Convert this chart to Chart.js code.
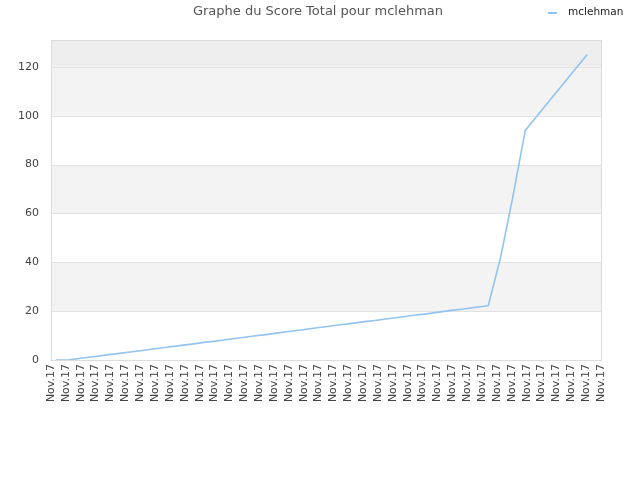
<!DOCTYPE html>
<html>
<head>
<meta charset="utf-8">
<script src="https://cdn.jsdelivr.net/npm/chart.js@4"></script>
<style>
  html, body { margin: 0; padding: 0; background: #fff; }
  #wrap { width: 640px; height: 480px; }
</style>
</head>
<body>
<div id="wrap"><canvas id="score-chart"></canvas></div>
<script>
// Score chart - total score for one player

const titleText = 'Graphe du Score Total pour mclehman';
const seriesName = 'mclehman';

// tick labels shown under the plot
const tickLabels = [
    'Nov.17', 'Nov.17', 'Nov.17', 'Nov.17', 'Nov.17', 'Nov.17', 'Nov.17', 'Nov.17',
    'Nov.17', 'Nov.17', 'Nov.17', 'Nov.17', 'Nov.17', 'Nov.17', 'Nov.17', 'Nov.17',
    'Nov.17', 'Nov.17', 'Nov.17', 'Nov.17', 'Nov.17', 'Nov.17', 'Nov.17', 'Nov.17',
    'Nov.17', 'Nov.17', 'Nov.17', 'Nov.17', 'Nov.17', 'Nov.17', 'Nov.17', 'Nov.17',
    'Nov.17', 'Nov.17', 'Nov.17', 'Nov.17', 'Nov.17', 'Nov.17'
];

// score values, one per sample
const scores = [
    0, 0, 0.7, 1.3, 2.0, 2.6, 3.3, 3.9, 4.6, 5.2,
    5.9, 6.5, 7.2, 7.8, 8.5, 9.1, 9.8, 10.4, 11.1, 11.8,
    12.4, 13.1, 13.7, 14.4, 15.0, 15.7, 16.3, 17.0, 17.6, 18.3,
    18.9, 19.6, 20.3, 20.9, 21.6, 22.2, 42, 67, 94, 100.2,
    106.4, 112.6, 118.8, 125
];

const yTicks = [0, 20, 40, 60, 80, 100, 120];

const lineColor = '#92c3f2';

// alternating bands behind the plot + border
const bandsPlugin = {
    id: 'bands',
    beforeDatasetsDraw(chart) {
        const { ctx, chartArea: a, scales: { y } } = chart;
        const stops = yTicks.concat([y.max]);
        ctx.save();
        for (let i = 0; i < stops.length - 1; i++) {
            const top = y.getPixelForValue(stops[i + 1]);
            const bottom = y.getPixelForValue(stops[i]);
            let color = i % 2 === 1 ? '#f3f3f3' : '#ffffff';
            if (i === stops.length - 2) color = '#eeeeee';
            ctx.fillStyle = color;
            ctx.fillRect(a.left, top, a.right - a.left, bottom - top);
        }
        // grid lines
        ctx.strokeStyle = '#e2e2e2';
        ctx.lineWidth = 1;
        yTicks.forEach(v => {
            const py = Math.round(y.getPixelForValue(v)) + 0.5;
            ctx.beginPath();
            ctx.moveTo(a.left, py);
            ctx.lineTo(a.right, py);
            ctx.stroke();
        });
        ctx.strokeStyle = '#dcdcdc';
        ctx.strokeRect(Math.round(a.left) + 0.5, Math.round(a.top) + 0.5,
            Math.round(a.right - a.left), Math.round(a.bottom - a.top));
        ctx.restore();
    },
    afterDraw(chart) {
        const { ctx } = chart;
        ctx.save();
        ctx.fillStyle = '#555555';
        ctx.font = '13px "DejaVu Sans"';
        ctx.textAlign = 'center';
        ctx.textBaseline = 'middle';
        ctx.fillText(titleText, 318, 12);

        // legend
        ctx.strokeStyle = lineColor;
        ctx.lineWidth = 2;
        ctx.beginPath();
        ctx.moveTo(548, 13);
        ctx.lineTo(557, 13);
        ctx.stroke();
        ctx.fillStyle = '#222222';
        ctx.font = '10.5px "DejaVu Sans"';
        ctx.textAlign = 'left';
        ctx.fillText(chart.data.datasets[0].label, 568, 12);
        ctx.restore();
    }
};

new Chart(document.getElementById('score-chart'), {
    type: 'line',
    data: {
        labels: tickLabels,
        datasets: [{
            label: seriesName,
            data: scores.map((v, i) => ({ x: i, y: v })),
            xAxisID: 'xData',
            borderColor: lineColor,
            borderWidth: 1.6,
            pointRadius: 0,
            tension: 0,
            fill: false
        }]
    },
    options: {
        responsive: true,
        maintainAspectRatio: false,
        animation: false,
        layout: { padding: { top: 40, left: 0, right: 39, bottom: 0 } },
        plugins: {
            legend: { display: false },
            title: { display: false },
            tooltip: { enabled: false }
        },
        scales: {
            x: {
                type: 'category',
                offset: false,
                grid: { display: false, drawTicks: false },
                border: { display: false },
                ticks: {
                    autoSkip: false,
                    minRotation: 90,
                    maxRotation: 90,
                    padding: 4,
                    color: '#444444',
                    font: { family: 'DejaVu Sans', size: 11 }
                },
                afterFit(scale) { scale.height = 120; }
            },
            xData: {
                type: 'linear',
                display: false,
                min: -0.4,
                max: 44.13
            },
            y: {
                min: 0,
                max: 131,
                grid: { display: false, drawTicks: false },
                border: { display: false },
                afterBuildTicks(scale) {
                    scale.ticks = yTicks.map(v => ({ value: v }));
                },
                ticks: {
                    padding: 12,
                    color: '#444444',
                    font: { family: 'DejaVu Sans', size: 11 }
                },
                afterFit(scale) { scale.width = 51; }
            }
        }
    },
    plugins: [bandsPlugin]
});
</script>
</body>
</html>
